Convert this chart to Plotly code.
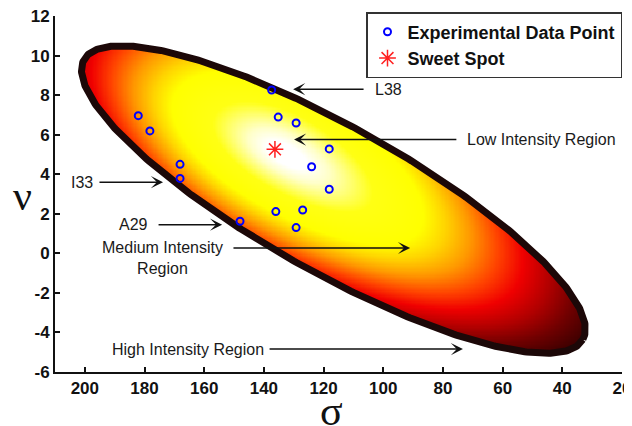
import numpy as np
import plotly.graph_objects as go

# ---------------- data ----------------
sigma_exp = [137.4, 182.1, 178.2, 135.2, 129.2, 118.1, 124.0, 118.1, 168.1, 168.1, 136.0, 127.0, 148.0, 129.2]
nu_exp = [8.26, 6.96, 6.19, 6.89, 6.59, 5.28, 4.38, 3.24, 4.50, 3.79, 2.11, 2.19, 1.62, 1.30]
sweet_sigma = [136.3]
sweet_nu = [5.26]

x_ticks = [200, 180, 160, 140, 120, 100, 80, 60, 40, 20]
x_tick_labels = ["200", "180", "160", "140", "120", "100", "80", "60", "40", "20"]
y_ticks = [-6, -4, -2, 0, 2, 4, 6, 8, 10, 12]
y_tick_labels = ["-6", "-4", "-2", "0", "2", "4", "6", "8", "10", "12"]
x_range = [210, 20]
y_range = [-6, 12]

# region (ellipse) geometry: centre in data units, semi-axes in screen px, tilt in degrees
ell_center = (116.7, 2.72)
ell_a, ell_b, ell_tilt = 286.0, 73.0, 29.3
# intensity field: brightest point and spread (screen px)
peak_center = (133.0, 5.0)
spread_ul, spread_lr = 250.0, 310.0
spread_up, spread_dn = 127.0, 112.0

# page has an 8px body margin; figure is sized to fill the rest of the window
W, H = 624, 418
ML, MR, MT, MB = 47, 10, 8, 54
PW, PH = W - ML - MR, H - MT - MB
PX_X = PW / abs(x_range[0] - x_range[1])
PX_Y = PH / abs(y_range[1] - y_range[0])
th = np.deg2rad(ell_tilt)
c, s = np.cos(th), np.sin(th)

# boundary curve
t = np.linspace(0, 2 * np.pi, 500)
du = ell_a * np.cos(t) * c - ell_b * np.sin(t) * s
dv = ell_a * np.cos(t) * s + ell_b * np.sin(t) * c
bx = ell_center[0] - du / PX_X
by = ell_center[1] - dv / PX_Y

# field grid
gx = np.linspace(29, 205, 420)
gy = np.linspace(-5.8, 12, 285)
GX, GY = np.meshgrid(gx, gy)
du = -(GX - ell_center[0]) * PX_X
dv = -(GY - ell_center[1]) * PX_Y
u = du * c + dv * s
v = -du * s + dv * c
inside = (u / ell_a) ** 2 + (v / ell_b) ** 2 <= 1.0
du = -(GX - peak_center[0]) * PX_X
dv = -(GY - peak_center[1]) * PX_Y
u = du * c + dv * s
v = -du * s + dv * c
A = np.where(u < 0, spread_ul, spread_lr)
B = np.where(v < 0, spread_up, spread_dn)
r = np.sqrt((u / A) ** 2 + (v / B) ** 2)
r = np.clip(r, 0, 1.15)
Z = np.where(inside, np.round(r, 3), np.nan)

stops = [(0.00, "#ffffff"), (0.08, "#ffffff"), (0.16, "#ffffc8"), (0.24, "#ffff70"),
         (0.32, "#ffff14"), (0.50, "#ffff00"), (0.58, "#ffd400"), (0.67, "#ff9800"),
         (0.77, "#ff4400"), (0.86, "#f00000"), (0.96, "#b00000"), (1.05, "#700000"),
         (1.15, "#350000")]
cscale = [[p / 1.15, col] for p, col in stops]

fig = go.Figure()
fig.add_trace(go.Heatmap(x=gx, y=gy, z=Z, colorscale=cscale, zmin=0, zmax=1.15,
                         showscale=False, hoverinfo="skip", zsmooth=False))
fig.add_trace(go.Scatter(x=bx, y=by, mode="lines", line=dict(color="#1c0808", width=7),
                         showlegend=False, hoverinfo="skip"))
fig.add_trace(go.Scatter(x=sigma_exp, y=nu_exp, mode="markers", name="Experimental Data Point",
                         marker=dict(symbol="circle-open", size=7, color="#0000ff",
                                     line=dict(width=2, color="#0000ff"))))
fig.add_trace(go.Scatter(x=sweet_sigma, y=sweet_nu, mode="markers", name="Sweet Spot",
                         marker=dict(symbol="asterisk-open", size=14, color="#ff2020",
                                     line=dict(width=1.5, color="#ff2020"))))

txt_font = dict(family="Liberation Sans, Arial", size=16, color="#1a1a1a")
labels = [
    ("L38", 103.4, 8.3, "left"),
    ("Low Intensity Region", 72.6, 5.75, "left"),
    ("I33", 196.6, 3.6, "right"),
    ("A29", 178.2, 1.45, "right"),
    ("Medium Intensity<br>Region", 174.1, -0.24, "center"),
    ("High Intensity Region", 139.3, -4.84, "right"),
]
for text, x, y, anc in labels:
    fig.add_annotation(x=x, y=y, xref="x", yref="y", text=text, showarrow=False,
                       xanchor=anc, yanchor="middle", font=txt_font, align="center")

arrows = [  # tip_x, tip_y, tail_x, tail_y
    (130.2, 8.3, 106.1, 8.3),
    (129.9, 5.75, 75.0, 5.75),
    (173.8, 3.6, 195.6, 3.6),
    (154.0, 1.45, 175.8, 1.45),
    (91.0, 0.27, 150.7, 0.27),
    (73.3, -4.84, 138.6, -4.84),
]
for tx, ty, ax, ay in arrows:
    fig.add_annotation(x=tx, y=ty, ax=ax, ay=ay, xref="x", yref="y", axref="x", ayref="y",
                       text="", showarrow=True, arrowhead=3, arrowsize=1.35, arrowwidth=1.5,
                       arrowcolor="#111111", standoff=0)

# axis titles
fig.add_annotation(x=-0.058, y=0.495, xref="paper", yref="paper", text="ν", showarrow=False,
                   font=dict(family="Liberation Serif", size=42, color="#111111"),
                   xanchor="center", yanchor="middle")
fig.add_annotation(x=0.487, y=-0.11, xref="paper", yref="paper", text="σ", showarrow=False,
                   font=dict(family="Liberation Serif", size=42, color="#111111"),
                   xanchor="center", yanchor="middle")

tick_font = dict(family="Liberation Sans, Arial", size=17, color="#111111", weight="bold")
axis_common = dict(showgrid=False, zeroline=False, showline=True, linecolor="#111111",
                   linewidth=2, ticks="inside", ticklen=5, tickwidth=1.5, tickcolor="#111111",
                   tickfont=tick_font, mirror=False, automargin=False,
                   ticklabeloverflow="allow")
fig.update_xaxes(range=x_range, tickvals=x_ticks, ticktext=x_tick_labels, **axis_common)
fig.update_yaxes(range=y_range, tickvals=y_ticks, ticktext=y_tick_labels, **axis_common)

fig.update_layout(
    width=W, height=H, margin=dict(l=ML, r=MR, t=MT, b=MB, autoexpand=False),
    paper_bgcolor="white", plot_bgcolor="white",
    showlegend=True,
    legend=dict(x=(366 - 55) / PW, y=1 + 4 / PH, xanchor="left", yanchor="top",
                bgcolor="white", bordercolor="#333333", borderwidth=1.5,
                font=dict(family="Liberation Sans, Arial", size=18, color="#111111", weight="bold"),
                tracegroupgap=0, itemwidth=30),
)

fig.write_html("out.html")
